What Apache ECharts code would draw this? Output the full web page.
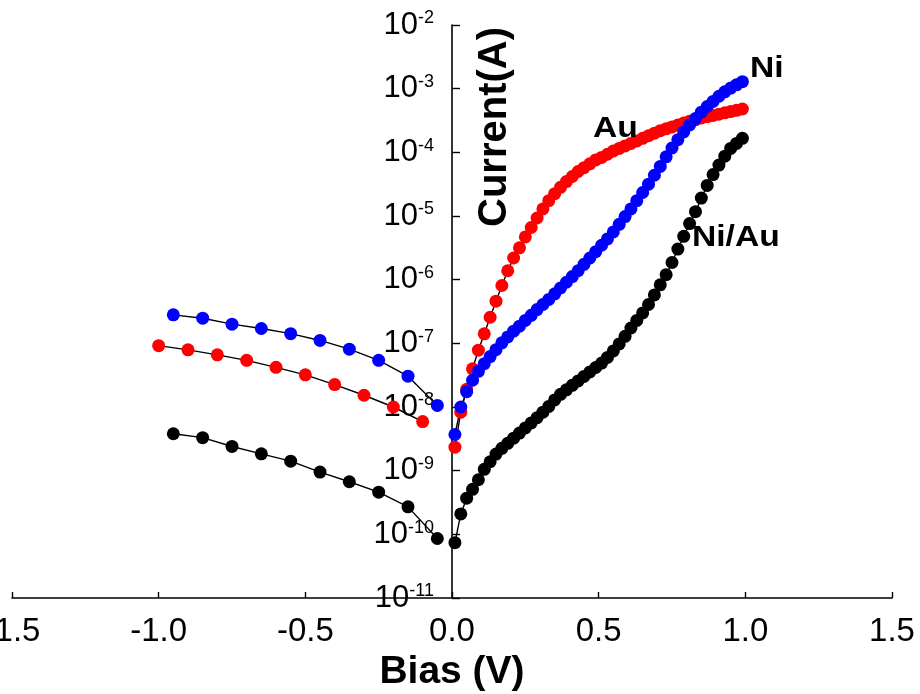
<!DOCTYPE html>
<html>
<head>
<meta charset="utf-8">
<script src="https://cdn.jsdelivr.net/npm/echarts@6/dist/echarts.min.js"></script>
<style>
  html, body { margin: 0; padding: 0; background: #fff; }
  #chart { width: 920px; height: 694px; }
</style>
</head>
<body>
<div id="chart"></div>
<script>
const FONT = '"Liberation Sans", Arial, Helvetica, sans-serif';

// Bias axis ticks (V)
const biasTicks = [-1.5, -1.0, -0.5, 0.0, 0.5, 1.0, 1.5];

// Reverse-bias sweep
const biasRevAu = [-1.0, -0.9, -0.8, -0.7, -0.6, -0.5, -0.4, -0.3, -0.2, -0.1];
const biasRev = [-0.95, -0.85, -0.75, -0.65, -0.55, -0.45, -0.35, -0.25, -0.15, -0.05];
const currentRevAu = [9.2e-8, 7.9e-8, 6.6e-8, 5.4e-8, 4.2e-8, 3.2e-8, 2.25e-8, 1.53e-8, 1.0e-8, 5.9e-9];
const currentRevNi = [2.8e-7, 2.48e-7, 2.0e-7, 1.71e-7, 1.42e-7, 1.11e-7, 8.1e-8, 5.4e-8, 3.05e-8, 1.06e-8];
const currentRevNiAu = [3.8e-9, 3.3e-9, 2.4e-9, 1.84e-9, 1.41e-9, 9.5e-10, 6.7e-10, 4.6e-10, 2.7e-10, 8.6e-11];

// Forward-bias sweep
const biasFwd = [0.01, 0.03, 0.05, 0.07, 0.09, 0.11, 0.13, 0.15, 0.17, 0.19,
                 0.21, 0.23, 0.25, 0.27, 0.29, 0.31, 0.33, 0.35, 0.37, 0.39,
                 0.41, 0.43, 0.45, 0.47, 0.49, 0.51, 0.53, 0.55, 0.57, 0.59,
                 0.61, 0.63, 0.65, 0.67, 0.69, 0.71, 0.73, 0.75, 0.77, 0.79,
                 0.81, 0.83, 0.85, 0.87, 0.89, 0.91, 0.93, 0.95, 0.97, 0.99];
const currentFwdAu = [2.34e-9, 8.3e-9, 1.9e-8, 3.98e-8, 7.8e-8, 1.41e-7, 2.57e-7, 4.6e-7, 8.1e-7, 1.38e-6,
                      2.19e-6, 3.16e-6, 4.7e-6, 6.6e-6, 9.3e-6, 1.29e-5, 1.74e-5, 2.24e-5, 2.82e-5, 3.47e-5,
                      4.17e-5, 5.0e-5, 5.75e-5, 6.6e-5, 7.6e-5, 8.32e-5, 9.33e-5, 1.05e-4, 1.15e-4, 1.26e-4,
                      1.38e-4, 1.51e-4, 1.66e-4, 1.82e-4, 2.0e-4, 2.19e-4, 2.34e-4, 2.51e-4, 2.69e-4, 2.88e-4,
                      3.09e-4, 3.24e-4, 3.47e-4, 3.63e-4, 3.8e-4, 3.98e-4, 4.17e-4, 4.37e-4, 4.57e-4, 4.79e-4];
const currentFwdNi = [3.7e-9, 1.0e-8, 1.74e-8, 2.63e-8, 3.63e-8, 4.8e-8, 6.2e-8, 7.94e-8, 1.02e-7, 1.26e-7,
                      1.55e-7, 1.86e-7, 2.29e-7, 2.75e-7, 3.39e-7, 4.07e-7, 4.9e-7, 6.0e-7, 7.4e-7, 9.1e-7,
                      1.12e-6, 1.38e-6, 1.74e-6, 2.19e-6, 2.75e-6, 3.47e-6, 4.37e-6, 5.62e-6, 7.4e-6, 9.8e-6,
                      1.29e-5, 1.74e-5, 2.34e-5, 3.16e-5, 4.37e-5, 6.0e-5, 8.5e-5, 1.17e-4, 1.58e-4, 2.09e-4,
                      2.69e-4, 3.39e-4, 4.27e-4, 5.25e-4, 6.31e-4, 7.6e-4, 8.91e-4, 1.02e-3, 1.15e-3, 1.29e-3];
const currentFwdNiAu = [7.4e-11, 2.09e-10, 3.7e-10, 5.1e-10, 7.2e-10, 1.05e-9, 1.38e-9, 1.82e-9, 2.24e-9, 2.69e-9,
                        3.24e-9, 3.89e-9, 4.7e-9, 5.62e-9, 6.8e-9, 8.3e-9, 1.02e-8, 1.29e-8, 1.58e-8, 1.86e-8,
                        2.19e-8, 2.57e-8, 3.02e-8, 3.55e-8, 4.17e-8, 4.9e-8, 6.0e-8, 7.6e-8, 9.8e-8, 1.29e-7,
                        1.74e-7, 2.29e-7, 3.0e-7, 4.07e-7, 5.75e-7, 8.3e-7, 1.2e-6, 1.86e-6, 3.02e-6, 4.8e-6,
                        7.6e-6, 1.17e-5, 1.91e-5, 3.02e-5, 4.47e-5, 6.31e-5, 8.7e-5, 1.15e-4, 1.38e-4, 1.66e-4];

const COLORS = { au: '#ff0000', ni: '#0000ff', niau: '#000000' };

// Plot area: the current axis is drawn where the bias is zero.
const GRID = { left: 12, right: 28, top: 25, bottom: 96 };
const plotWidth = 920 - GRID.left - GRID.right;
const zeroOffset = plotWidth * (0 - biasTicks[0]) / (biasTicks[biasTicks.length - 1] - biasTicks[0]);

function pairs(xs, ys) { return xs.map((x, i) => [x, ys[i]]); }

function sweep(name, xs, ys, color) {
  return {
    name: name,
    type: 'line',
    data: pairs(xs, ys),
    symbol: 'circle',
    symbolSize: 13,
    showAllSymbol: true,
    itemStyle: { color: color },
    lineStyle: { color: '#000', width: 1.4 },
    emphasis: { disabled: true },
    animation: false
  };
}

const chart = echarts.init(document.getElementById('chart'), null, { renderer: 'canvas' });

chart.setOption({
  backgroundColor: '#fff',
  animation: false,
  grid: Object.assign({ containLabel: false, outerBoundsMode: 'none' }, GRID),
  xAxis: {
    type: 'value',
    min: biasTicks[0],
    max: biasTicks[biasTicks.length - 1],
    interval: 0.5,
    axisLine: { onZero: false, lineStyle: { color: '#000', width: 1.6 } },
    axisTick: { inside: true, length: 6, lineStyle: { color: '#000', width: 1.4 } },
    axisLabel: {
      formatter: v => v.toFixed(1),
      fontSize: 33, fontFamily: FONT, color: '#000', margin: 17,
      showMinLabel: true, showMaxLabel: true
    },
    splitLine: { show: false },
    name: 'Bias (V)',
    nameLocation: 'middle',
    nameGap: 40,
    nameTextStyle: { fontSize: 39, fontWeight: 'bold', fontFamily: FONT, color: '#000' }
  },
  yAxis: {
    type: 'log',
    logBase: 10,
    min: 1e-11,
    max: 1e-2,
    interval: 1,
    position: 'left',
    offset: -zeroOffset,
    axisLine: { onZero: false, lineStyle: { color: '#000', width: 1.6 } },
    axisTick: { inside: true, length: 8, lineStyle: { color: '#000', width: 1.4 } },
    minorTick: { show: false },
    axisLabel: {
      margin: 18,
      formatter: v => '{b|10}{s|' + Math.round(Math.log10(v)) + '}',
      rich: {
        b: { fontSize: 31, fontFamily: FONT, color: '#000' },
        s: { fontSize: 18, fontFamily: FONT, color: '#000', verticalAlign: 'top' }
      }
    },
    splitLine: { show: false }
  },
  series: [
    sweep('Ni/Au', biasRev, currentRevNiAu, COLORS.niau),
    sweep('Ni/Au', biasFwd, currentFwdNiAu, COLORS.niau),
    sweep('Au', biasRevAu, currentRevAu, COLORS.au),
    sweep('Au', biasFwd, currentFwdAu, COLORS.au),
    sweep('Ni', biasRev, currentRevNi, COLORS.ni),
    sweep('Ni', biasFwd, currentFwdNi, COLORS.ni)
  ],
  graphic: [
    {
      type: 'text', x: 495, y: 127, rotation: Math.PI / 2, z: 10,
      style: { text: 'Current(A)', font: 'bold 40px ' + FONT, fill: '#000',
               align: 'center', verticalAlign: 'middle', textAlign: 'center', textVerticalAlign: 'middle' }
    },
    {
      type: 'text', x: 750, y: 69, scaleX: 1.12, z: 10,
      style: { text: 'Ni', font: 'bold 30px ' + FONT, fill: '#000',
               align: 'left', verticalAlign: 'middle', textAlign: 'left', textVerticalAlign: 'middle' }
    },
    {
      type: 'text', x: 593, y: 129, scaleX: 1.12, z: 10,
      style: { text: 'Au', font: 'bold 30px ' + FONT, fill: '#000',
               align: 'left', verticalAlign: 'middle', textAlign: 'left', textVerticalAlign: 'middle' }
    },
    {
      type: 'text', x: 692, y: 238, scaleX: 1.12, z: 10,
      style: { text: 'Ni/Au', font: 'bold 30px ' + FONT, fill: '#000',
               align: 'left', verticalAlign: 'middle', textAlign: 'left', textVerticalAlign: 'middle' }
    }
  ]
});
</script>
</body>
</html>
